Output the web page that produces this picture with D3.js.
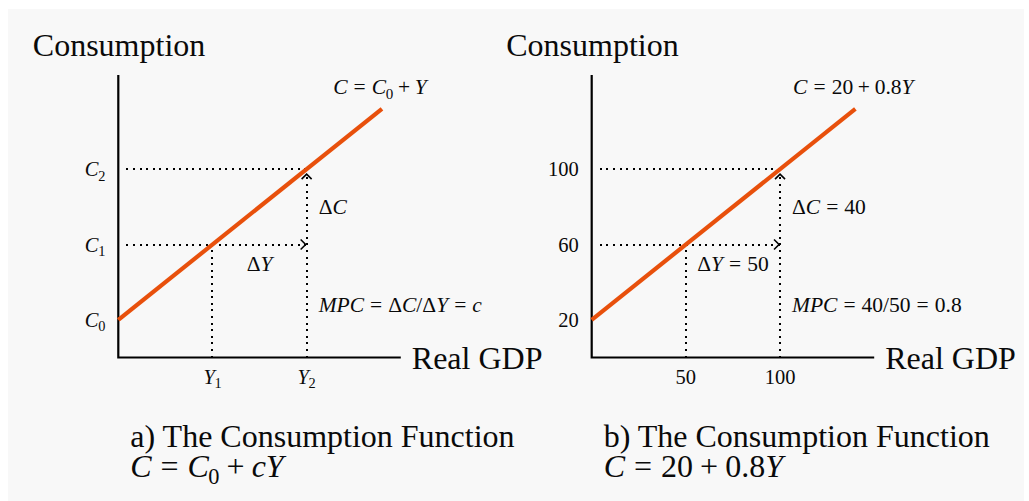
<!DOCTYPE html>
<html>
<head>
<meta charset="utf-8">
<script src="https://cdn.jsdelivr.net/npm/d3@7"></script>
<style>
  html, body { margin: 0; padding: 0; background: #ffffff; }
  svg { display: block; }
  text { font-family: "Liberation Serif", "Times New Roman", serif; fill: #0a0a0a; }
</style>
</head>
<body>
<svg id="chart" width="1029" height="501"></svg>
<script>
// Consumption function C = a + bY, shown twice: symbolic (a) and numeric (b)
const intercept = 20;
const mpc = 0.8;
const axisMax = 150;            // both axes run 0..150
const lineIncome = [0, 140];    // extent of the consumption line along Real GDP
const incomeLevels = [50, 100]; // Y1, Y2
const consumptionLevels = [intercept, intercept + mpc * 50, intercept + mpc * 100]; // C0, C1, C2

// Tick labels for each panel, as math tokens: [text, kind]
// kinds: "i" italic, "r" roman, "s" subscript, "op" spaced binary operator, "rel" spaced relation
const yTickLabelsA = [
  [["C", "i"], ["0", "s"]],
  [["C", "i"], ["1", "s"]],
  [["C", "i"], ["2", "s"]]
];
const xTickLabelsA = [
  [["Y", "i"], ["1", "s"]],
  [["Y", "i"], ["2", "s"]]
];
const yTickLabelsB = [[["20", "r"]], [["60", "r"]], [["100", "r"]]];
const xTickLabelsB = [[["50", "r"]], [["100", "r"]]];

const lineLabelA = [["C", "i"], ["=", "rel"], ["C", "i"], ["0", "s"], ["+", "op"], ["Y", "i"]];
const lineLabelB = [["C", "i"], ["=", "rel"], ["20", "r"], ["+", "op"], ["0.8", "r"], ["Y", "i"]];
const dCLabelA = [["Δ", "r"], ["C", "i"]];
const dCLabelB = [["Δ", "r"], ["C", "i"], ["=", "rel"], ["40", "r"]];
const dYLabelA = [["Δ", "r"], ["Y", "i"]];
const dYLabelB = [["Δ", "r"], ["Y", "i"], ["=", "rel"], ["50", "r"]];
const mpcLabelA = [["MPC", "i"], ["=", "rel"], ["Δ", "r"], ["C", "i"], ["/", "r"], ["Δ", "r"], ["Y", "i"], ["=", "rel"], ["c", "i"]];
const mpcLabelB = [["MPC", "i"], ["=", "rel"], ["40/50", "r"], ["=", "rel"], ["0.8", "r"]];

const captionA = "a) The Consumption Function";
const captionB = "b) The Consumption Function";
const formulaA = [["C", "i"], ["=", "rel"], ["C", "i"], ["0", "s"], ["+", "op"], ["c", "i"], ["Y", "i"]];
const formulaB = [["C", "i"], ["=", "rel"], ["20", "r"], ["+", "op"], ["0.8", "r"], ["Y", "i"]];

const yAxisTitle = "Consumption";
const xAxisTitle = "Real GDP";

const svg = d3.select("#chart");

svg.append("rect")
  .attr("x", 8).attr("y", 9)
  .attr("width", 1016).attr("height", 492)
  .attr("fill", "#f8f8f8");

const plotSize = 282.5;
const x = d3.scaleLinear().domain([0, axisMax]).range([0, plotSize]);
const y = d3.scaleLinear().domain([0, axisMax]).range([plotSize, 0]);

// Write a small math expression with tspans (italic variables, subscripts, spaced operators)
function mathText(parent, px, py, tokens, size, anchor) {
  const t = parent.append("text")
    .attr("x", px).attr("y", py)
    .attr("font-size", size)
    .attr("text-anchor", anchor || "start");
  let pendingDx = 0;
  let lowered = 0;
  tokens.forEach(([s, kind]) => {
    const sp = t.append("tspan").text(s);
    let dx = pendingDx;
    pendingDx = 0;
    let dy = 0;
    if (kind === "s") {
      sp.attr("font-size", size * 0.7);
      dy = size * 0.22 - lowered;
      lowered = size * 0.22;
      dx += size * -0.02;
    } else {
      dy = -lowered;
      lowered = 0;
    }
    if (kind === "i") sp.attr("font-style", "italic");
    if (kind === "rel") { dx += size * 0.28; pendingDx = size * 0.28; }
    if (kind === "op") { dx += size * 0.22; pendingDx = size * 0.22; }
    if (dx) sp.attr("dx", dx);
    if (dy) sp.attr("dy", dy);
  });
  return t;
}

const titleSize = 32;
const noteSize = 21.5;
const tickSize = 20.5;

function drawPanel(ox, cfg) {
  const g = svg.append("g").attr("transform", `translate(${ox},75)`);

  // axis titles
  g.append("text")
    .attr("x", -85.5).attr("y", -19)
    .attr("font-size", titleSize)
    .text(yAxisTitle);
  g.append("text")
    .attr("x", x(axisMax) + 11).attr("y", y(0) + 11)
    .attr("font-size", titleSize)
    .text(xAxisTitle);

  // axes
  g.append("path")
    .attr("d", `M${x(0)},${y(axisMax)}V${y(0)}H${x(axisMax)}`)
    .attr("fill", "none")
    .attr("stroke", "#000")
    .attr("stroke-width", 2.2);

  const dotted = sel => sel
    .attr("fill", "none")
    .attr("stroke", "#000")
    .attr("stroke-width", 2)
    .attr("stroke-dasharray", "2 4.6")
    .attr("shape-rendering", "crispEdges");

  const [Y1, Y2] = incomeLevels;
  const [, C1, C2] = consumptionLevels;

  // guide lines
  g.append("line").call(dotted)
    .attr("x1", x(0) + 8).attr("x2", x(Y2)).attr("y1", y(C2)).attr("y2", y(C2));
  g.append("line").call(dotted)
    .attr("x1", x(0) + 8).attr("x2", x(Y2)).attr("y1", y(C1)).attr("y2", y(C1));
  g.append("line").call(dotted)
    .attr("x1", x(Y1)).attr("x2", x(Y1)).attr("y1", y(0)).attr("y2", y(C1));
  g.append("line").call(dotted)
    .attr("x1", x(Y2)).attr("x2", x(Y2)).attr("y1", y(0)).attr("y2", y(C2) + 5);

  // arrow heads: ΔY (rightwards) and ΔC (upwards)
  const head = { fill: "none", stroke: "#000", "stroke-width": 1.6 };
  const rh = g.append("path")
    .attr("d", `M${x(Y2) - 6},${y(C1) - 5}L${x(Y2) - 1},${y(C1)}L${x(Y2) - 6},${y(C1) + 5}`);
  const uh = g.append("path")
    .attr("d", `M${x(Y2) - 5},${y(C2) + 10}L${x(Y2)},${y(C2) + 5}L${x(Y2) + 5},${y(C2) + 10}`);
  Object.entries(head).forEach(([k, v]) => { rh.attr(k, v); uh.attr(k, v); });

  // consumption line
  const line = d3.line().x(d => x(d)).y(d => y(intercept + mpc * d));
  g.append("path")
    .datum(lineIncome)
    .attr("d", line)
    .attr("fill", "none")
    .attr("stroke", "#e8500c")
    .attr("stroke-width", 4.2);

  // tick labels
  consumptionLevels.forEach((c, i) =>
    mathText(g, x(0) - 13, y(c) + 7, cfg.yTicks[i], tickSize, "end"));
  incomeLevels.forEach((v, i) =>
    mathText(g, x(v), y(0) + 26, cfg.xTicks[i], tickSize, "middle"));

  // annotations
  const endY = lineIncome[1];
  mathText(g, x(endY) - 2, y(intercept + mpc * endY) - 15, cfg.lineLabel, noteSize, "middle");
  mathText(g, x(Y2) + 12, (y(C1) + y(C2)) / 2 + 7, cfg.dC, noteSize, "start");
  mathText(g, (x(Y1) + x(Y2)) / 2, y(C1) + 26, cfg.dY, noteSize, "middle");
  mathText(g, x(Y2) + 12, y(C1) + 67, cfg.mpc, noteSize, "start");

  // caption
  g.append("text")
    .attr("x", x(0) + 12).attr("y", 372)
    .attr("font-size", titleSize)
    .text(cfg.caption);
  mathText(g, x(0) + 12, 402, cfg.formula, titleSize, "start");
}

drawPanel(118.3, {
  yTicks: yTickLabelsA, xTicks: xTickLabelsA, lineLabel: lineLabelA,
  dC: dCLabelA, dY: dYLabelA, mpc: mpcLabelA, caption: captionA, formula: formulaA
});
drawPanel(591.7, {
  yTicks: yTickLabelsB, xTicks: xTickLabelsB, lineLabel: lineLabelB,
  dC: dCLabelB, dY: dYLabelB, mpc: mpcLabelB, caption: captionB, formula: formulaB
});
</script>
</body>
</html>
